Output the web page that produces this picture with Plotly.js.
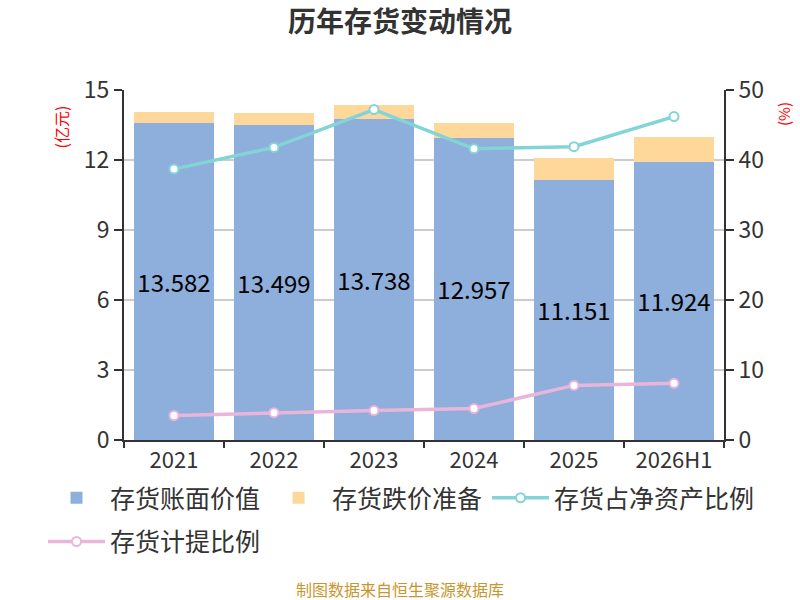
<!DOCTYPE html>
<html>
<head>
<meta charset="utf-8">
<script src="https://cdn.plot.ly/plotly-3.0.1.min.js"></script>
<style>
  body { margin: 0; }
  #chart { width: 800px; height: 600px; }
</style>
</head>
<body>
<div id="chart"></div>
<script>
// 年份
var years = ["2021", "2022", "2023", "2024", "2025", "2026H1"];
// 存货账面价值 (亿元)
var bookValue = [13.582, 13.499, 13.738, 12.957, 11.151, 11.924];
// 存货跌价准备 (亿元)
var reserve = [0.48, 0.52, 0.62, 0.62, 0.93, 1.06];
// 存货占净资产比例 (%)
var netAssetRatio = [38.7, 41.8, 47.2, 41.6, 41.9, 46.2];
// 存货计提比例 (%)
var provisionRatio = [3.5, 3.9, 4.2, 4.5, 7.8, 8.1];

var cjk = '"Noto Sans CJK SC", "Noto Sans", sans-serif';

var trace1 = {
    x: years,
    y: bookValue,
    type: 'bar',
    name: '存货账面价值',
    marker: { color: '#8eaedb' },
    text: bookValue.map((v) => v.toFixed(3)),
    textposition: 'inside',
    insidetextanchor: 'middle',
    constraintext: 'none',
    textfont: { size: 24, color: '#000000', family: cjk }
};

var trace2 = {
    x: years,
    y: reserve,
    type: 'bar',
    name: '存货跌价准备',
    marker: { color: '#fdd89a' }
};

var trace3 = {
    x: years,
    y: netAssetRatio,
    type: 'scatter',
    mode: 'lines+markers',
    name: '存货占净资产比例',
    yaxis: 'y2',
    line: { color: '#83d4d6', width: 3.5 },
    marker: { symbol: 'circle', size: 9, color: '#ffffff', line: { color: '#83d4d6', width: 2 } }
};

var trace4 = {
    x: years,
    y: provisionRatio,
    type: 'scatter',
    mode: 'lines+markers',
    name: '存货计提比例',
    yaxis: 'y2',
    legend: 'legend2',
    line: { color: '#e9b6da', width: 3.5 },
    marker: { symbol: 'circle', size: 9, color: '#ffffff', line: { color: '#e9b6da', width: 2 } }
};

var legendFont = { size: 25, color: '#333333' };

var layout = {
    width: 800,
    height: 600,
    margin: { l: 124, r: 76, t: 90, b: 160 },
    paper_bgcolor: '#ffffff',
    plot_bgcolor: '#ffffff',
    font: { family: cjk, color: '#333333' },
    showlegend: true,
    barmode: 'stack',
    bargap: 0.2,
    title: {
        text: '<b>历年存货变动情况</b>',
        font: { size: 28, color: '#333333', family: cjk },
        x: 0.5,
        xanchor: 'center',
        y: 0.963,
        yref: 'container',
        yanchor: 'middle'
    },
    xaxis: {
        type: 'category',
        showline: true,
        linecolor: '#333333',
        linewidth: 2,
        ticks: 'outside',
        tickson: 'boundaries',
        ticklen: 6,
        tickwidth: 2,
        tickcolor: '#333333',
        tickfont: { size: 22, color: '#333333' },
        ticklabelstandoff: 0,
        showgrid: false,
        fixedrange: true
    },
    yaxis: {
        range: [0, 15],
        tickvals: [0, 3, 6, 9, 12, 15],
        showline: true,
        linecolor: '#333333',
        linewidth: 2,
        ticks: 'outside',
        ticklen: 8,
        tickwidth: 2,
        tickcolor: '#333333',
        tickfont: { size: 23, color: '#333333' },
        gridcolor: '#cccccc',
        gridwidth: 1.5,
        zeroline: false
    },
    yaxis2: {
        overlaying: 'y',
        side: 'right',
        range: [0, 50],
        tickvals: [0, 10, 20, 30, 40, 50],
        showline: true,
        linecolor: '#333333',
        linewidth: 2,
        ticks: 'outside',
        ticklen: 8,
        tickwidth: 2,
        tickcolor: '#333333',
        tickfont: { size: 23, color: '#333333' },
        showgrid: false,
        zeroline: false
    },
    legend: {
        orientation: 'h',
        x: -0.135,
        xanchor: 'left',
        y: -0.1,
        yanchor: 'top',
        font: legendFont,
        itemwidth: 57,
        traceorder: 'normal'
    },
    legend2: {
        orientation: 'h',
        x: -0.135,
        xanchor: 'left',
        y: -0.225,
        yanchor: 'top',
        font: legendFont,
        itemwidth: 57
    },
    annotations: [
        {
            text: '(亿元)',
            xref: 'paper', yref: 'paper',
            x: -0.13, y: 0.96,
            showarrow: false,
            textangle: -90,
            font: { size: 16, color: '#ff0000' }
        },
        {
            text: '(%)',
            xref: 'paper', yref: 'paper',
            x: 1.12, y: 0.97,
            showarrow: false,
            textangle: -90,
            font: { size: 15, color: '#ff0000' }
        },
        {
            text: '制图数据来自恒生聚源数据库',
            xref: 'paper', yref: 'paper',
            x: 0.46, y: -0.465,
            showarrow: false,
            font: { size: 16, color: '#c9962c' }
        }
    ]
};

Plotly.newPlot('chart', [trace1, trace2, trace3, trace4], layout, { displayModeBar: false });
</script>
</body>
</html>
